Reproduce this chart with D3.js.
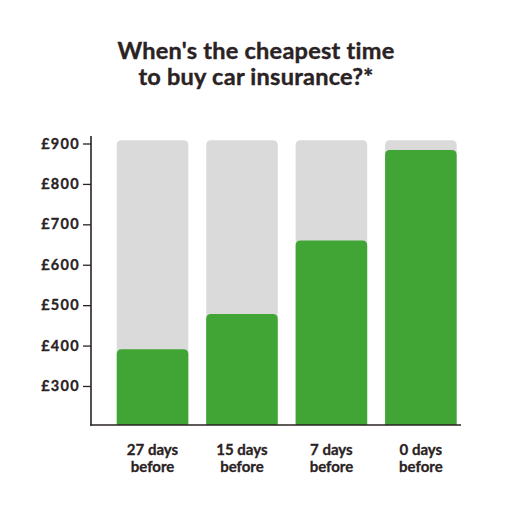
<!DOCTYPE html>
<html>
<head>
<meta charset="utf-8">
<script src="https://cdn.jsdelivr.net/npm/d3@7/dist/d3.min.js"></script>
<style>
  html, body { margin: 0; padding: 0; background: #ffffff; }
  svg { display: block; }
  text { font-family: Lato, "Open Sans", sans-serif; font-weight: 700; fill: #2a2223; }
</style>
</head>
<body>
<svg id="chart" width="510" height="511"></svg>
<script>
// ---- data ----
const categories = ["27 days before", "15 days before", "7 days before", "0 days before"];
const labelLines = [["27 days", "before"], ["15 days", "before"], ["7 days", "before"], ["0 days", "before"]];
const prices = [391, 478, 660, 884];
const backgroundMax = [908, 908, 908, 908];
const yTickValues = [300, 400, 500, 600, 700, 800, 900];
const titleLines = ["When's the cheapest time", "to buy car insurance?*"];

// ---- layout ----
const svg = d3.select("#chart");
const axisX = 91, baseY = 425, axisTop = 136, axisRight = 461;
const green = "#41a535", grey = "#dadada", ink = "#2a2223";

const x = d3.scaleBand().domain(categories).range([107.8, 465.6]).paddingInner(0.2).paddingOuter(0.1);
const y = d3.scaleLinear().domain([200, 900]).range([426.4, 143.5]);

// title
svg.append("g").selectAll("text").data(titleLines).join("text")
  .attr("x", 256).attr("y", (d, i) => 58.5 + i * 26.5)
  .attr("text-anchor", "middle").attr("font-size", 23.5)
  .style("letter-spacing", "0.25px")
  .attr("stroke", ink).attr("stroke-width", 0.4)
  .text(d => d);

function topRounded(x0, y0, w, h, r) {
  r = Math.min(r, h, w / 2);
  return `M${x0},${y0 + h}V${y0 + r}Q${x0},${y0} ${x0 + r},${y0}H${x0 + w - r}Q${x0 + w},${y0} ${x0 + w},${y0 + r}V${y0 + h}Z`;
}

// background bars
svg.append("g").selectAll("path").data(categories).join("path")
  .attr("fill", grey)
  .attr("d", (c, i) => topRounded(x(c), y(backgroundMax[i]), x.bandwidth(), baseY - y(backgroundMax[i]), 5));

// value bars
svg.append("g").selectAll("path").data(categories).join("path")
  .attr("fill", green)
  .attr("d", (c, i) => topRounded(x(c), y(prices[i]), x.bandwidth(), baseY - y(prices[i]), 5));

// y axis
const yAxis = d3.axisLeft(y).tickValues(yTickValues).tickSize(8).tickPadding(3)
  .tickFormat(d => "£" + d);
const gy = svg.append("g").attr("transform", `translate(${axisX},0)`).call(yAxis);
gy.select(".domain").remove();
gy.selectAll(".tick line").attr("stroke", ink).attr("stroke-width", 1.3);
gy.selectAll(".tick text").attr("font-size", 14.5).attr("fill", ink)
  .attr("font-family", "Lato, sans-serif").attr("font-weight", 900).style("letter-spacing", "1.3px")
  .attr("stroke", ink).attr("stroke-width", 0.3);

// axis lines
svg.append("line").attr("x1", axisX).attr("x2", axisX).attr("y1", axisTop).attr("y2", baseY + 0.7)
  .attr("stroke", ink).attr("stroke-width", 1.6);
svg.append("line").attr("x1", axisX - 0.8).attr("x2", axisRight).attr("y1", baseY).attr("y2", baseY)
  .attr("stroke", ink).attr("stroke-width", 1.6);

// x labels
const gx = svg.append("g").selectAll("text").data(categories).join("text")
  .attr("x", c => x(c) + x.bandwidth() / 2)
  .attr("text-anchor", "middle").attr("font-size", 15)
  .attr("stroke", ink).attr("stroke-width", 0.3);
gx.selectAll("tspan").data((c, i) => labelLines[i]).join("tspan")
  .attr("x", function() { return d3.select(this.parentNode).attr("x"); })
  .attr("y", (d, j) => 455 + j * 16.5)
  .text(d => d);
</script>
</body>
</html>
